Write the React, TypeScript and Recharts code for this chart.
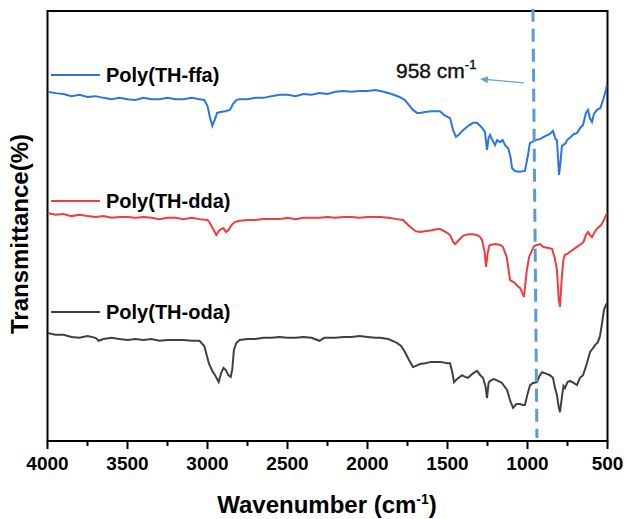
import React from 'react';
import { LineChart, Line, XAxis, YAxis, ReferenceArea, ReferenceLine } from 'recharts';

// FTIR spectra, [wavenumber (cm-1), transmittance offset value]
const ffaPoints: number[][] = [
  [4000, 81.2], [3950, 80.9], [3900, 80.7], [3850, 80.2], [3800, 80.5], [3750, 80.0], [3700, 80.2],
  [3650, 79.8], [3600, 79.5], [3550, 79.8], [3500, 79.5], [3450, 79.3], [3400, 79.8], [3350, 79.5],
  [3300, 79.5], [3250, 79.8], [3200, 79.5], [3150, 79.5], [3100, 79.8], [3050, 79.5], [3020, 79.3],
  [3000, 77.9], [2985, 75.3], [2970, 73.3], [2955, 74.7], [2940, 76.3], [2920, 76.5], [2890, 76.7],
  [2860, 77.0], [2840, 78.4], [2820, 79.3], [2800, 79.5], [2750, 79.5], [2700, 79.8], [2650, 79.8],
  [2600, 80.2], [2550, 80.5], [2500, 80.5], [2450, 80.2], [2400, 80.7], [2350, 80.5], [2300, 80.9],
  [2250, 80.7], [2200, 81.2], [2150, 81.4], [2100, 81.2], [2050, 81.4], [2000, 81.4], [1950, 81.6],
  [1900, 81.2], [1850, 80.7], [1800, 80.0], [1766, 79.3], [1740, 78.1], [1716, 77.0], [1690, 76.3],
  [1672, 76.3], [1640, 76.5], [1600, 76.7], [1547, 76.7], [1520, 75.8], [1484, 75.1], [1465, 72.3],
  [1447, 70.7], [1430, 71.2], [1403, 72.3], [1370, 73.3], [1340, 74.0], [1316, 74.0], [1290, 73.1],
  [1266, 71.9], [1253, 67.7], [1243, 70.5], [1234, 71.2], [1220, 70.0], [1203, 68.8], [1190, 70.0],
  [1172, 69.5], [1155, 70.0], [1140, 68.8], [1120, 68.1], [1105, 65.8], [1097, 63.5], [1078, 62.8],
  [1050, 62.6], [1016, 62.8], [997, 66.5], [985, 69.3], [972, 69.5], [950, 70.0], [922, 70.2],
  [890, 70.9], [860, 71.4], [841, 72.1], [825, 70.2], [816, 70.0], [808, 65.1], [803, 61.9],
  [795, 64.4], [785, 68.6], [778, 68.8], [760, 69.3], [753, 70.0], [730, 70.7], [710, 71.4],
  [691, 71.6], [670, 72.8], [653, 73.5], [635, 76.3], [622, 77.0], [610, 75.1], [597, 74.2],
  [585, 76.0], [566, 77.0], [545, 77.4], [528, 79.3], [515, 80.9], [503, 82.8],
];

const ddaPoints: number[][] = [
  [4000, 53.0], [3950, 52.6], [3900, 52.8], [3850, 52.3], [3800, 52.6], [3750, 52.3], [3700, 52.1],
  [3650, 52.3], [3600, 51.9], [3550, 52.1], [3500, 52.1], [3450, 51.9], [3400, 52.1], [3350, 51.9],
  [3300, 51.6], [3250, 51.9], [3200, 51.9], [3150, 51.6], [3100, 51.9], [3050, 51.6], [3000, 51.4],
  [2985, 50.7], [2965, 49.3], [2945, 47.9], [2930, 48.8], [2915, 49.3], [2900, 49.5], [2885, 48.6],
  [2870, 49.0], [2850, 50.2], [2830, 50.9], [2800, 51.2], [2750, 51.4], [2700, 51.4], [2650, 51.6],
  [2600, 51.6], [2550, 51.6], [2500, 51.9], [2450, 51.6], [2400, 51.9], [2350, 51.9], [2300, 51.9],
  [2250, 52.1], [2200, 51.9], [2150, 52.1], [2100, 52.1], [2050, 51.9], [2000, 52.1], [1950, 52.1],
  [1922, 52.1], [1870, 51.9], [1816, 51.6], [1778, 51.4], [1740, 50.0], [1700, 48.8], [1672, 48.6],
  [1640, 48.8], [1600, 49.0], [1560, 49.3], [1547, 49.3], [1510, 48.6], [1484, 47.9], [1465, 46.3],
  [1453, 45.8], [1430, 46.7], [1403, 47.7], [1370, 48.1], [1340, 48.1], [1316, 47.9], [1295, 47.4],
  [1284, 46.7], [1268, 44.0], [1259, 40.5], [1250, 43.5], [1240, 45.3], [1234, 45.6], [1200, 45.8],
  [1170, 45.6], [1153, 45.1], [1130, 42.8], [1109, 37.4], [1090, 37.0], [1078, 36.7], [1060, 36.0],
  [1047, 35.6], [1035, 34.7], [1022, 33.5], [1005, 39.5], [990, 42.8], [984, 43.3], [960, 45.3],
  [941, 45.6], [922, 45.8], [900, 45.1], [870, 44.9], [847, 44.7], [830, 42.6], [816, 39.8],
  [805, 33.0], [797, 31.2], [785, 38.4], [775, 42.3], [766, 43.3], [750, 43.5], [734, 44.0],
  [700, 44.9], [672, 45.6], [650, 46.3], [635, 47.9], [622, 48.6], [610, 47.9], [597, 47.4],
  [580, 48.6], [563, 49.5], [540, 50.2], [520, 51.6], [503, 53.0],
];

const odaPoints: number[][] = [
  [4000, 25.1], [3950, 24.7], [3900, 24.7], [3850, 24.2], [3800, 24.0], [3750, 24.4], [3700, 24.0],
  [3680, 23.3], [3650, 23.7], [3600, 24.0], [3550, 23.7], [3500, 23.5], [3450, 23.7], [3400, 23.5],
  [3350, 23.7], [3300, 23.3], [3250, 23.5], [3200, 23.5], [3150, 23.5], [3100, 23.3], [3050, 23.3],
  [3020, 22.1], [3005, 20.0], [2990, 17.9], [2970, 16.3], [2950, 15.1], [2930, 13.7], [2915, 15.8],
  [2900, 17.0], [2885, 16.5], [2870, 15.3], [2855, 14.9], [2845, 16.7], [2835, 21.2], [2820, 22.8],
  [2800, 23.5], [2750, 23.7], [2700, 23.7], [2650, 24.0], [2600, 24.0], [2550, 24.2], [2500, 24.0],
  [2450, 24.0], [2400, 24.2], [2350, 24.0], [2300, 23.3], [2270, 24.0], [2200, 24.0], [2150, 24.2],
  [2100, 24.2], [2050, 24.4], [2000, 24.2], [1950, 24.0], [1922, 24.0], [1870, 23.7], [1816, 22.8],
  [1790, 22.1], [1766, 20.7], [1740, 18.8], [1716, 17.2], [1700, 17.4], [1672, 17.9], [1640, 18.1],
  [1600, 18.4], [1547, 18.4], [1500, 18.1], [1484, 18.1], [1470, 16.0], [1459, 13.7], [1440, 14.4],
  [1409, 15.3], [1390, 14.9], [1372, 14.7], [1345, 15.6], [1316, 16.3], [1295, 15.3], [1278, 14.7],
  [1262, 12.6], [1253, 10.0], [1243, 13.5], [1234, 14.0], [1210, 14.4], [1184, 14.0], [1160, 13.5],
  [1128, 11.9], [1108, 9.3], [1090, 7.7], [1070, 8.6], [1047, 8.6], [1030, 8.4], [1016, 8.4],
  [1000, 10.9], [984, 13.0], [965, 13.5], [941, 13.7], [925, 15.1], [909, 16.0], [880, 15.6],
  [860, 15.3], [841, 14.7], [828, 12.3], [816, 10.7], [805, 7.9], [797, 6.7], [785, 10.2],
  [775, 12.8], [766, 12.3], [750, 13.7], [734, 14.0], [712, 13.5], [691, 13.0], [672, 14.7],
  [653, 15.3], [630, 17.9], [609, 20.7], [590, 21.6], [578, 22.3], [560, 23.0], [547, 24.4],
  [535, 27.2], [522, 30.5], [510, 31.6], [503, 32.1],
];

const xTicks = [4000, 3750, 3500, 3250, 3000, 2750, 2500, 2250, 2000, 1750, 1500, 1250, 1000, 750, 500];

const series = [
  { name: 'Poly(TH-ffa)', points: ffaPoints, color: '#2c74e2', legendTop: 75 },
  { name: 'Poly(TH-dda)', points: ddaPoints, color: '#f03c3c', legendTop: 201 },
  { name: 'Poly(TH-oda)', points: odaPoints, color: '#404040', legendTop: 312 },
];

const FONT = '"Liberation Sans", Arial, sans-serif';

const toRows = (pts: number[][]) => pts.map(([wn, t]) => ({ wn, t }));

const WnTick = (props: any) => {
  const { x, y, payload } = props;
  const v = payload.value;
  const major = v % 500 === 0;
  return (
    <g>
      <line x1={x} x2={x} y1={y - 16} y2={y - 16 + (major ? 8 : 5)} stroke="#000" strokeWidth={2} />
      {major && (
        <text x={x} y={y} dy="0.71em" textAnchor="middle" fontSize={19} fontWeight="bold" fontFamily={FONT} fill="#000">
          {v}
        </text>
      )}
    </g>
  );
};

// arrow pointing from the dashed line toward the label
const ArrowShape = (props: any) => {
  const { x1, y1, x2, y2 } = props;
  if (x1 == null) return null;
  const ang = Math.atan2(y2 - y1, x2 - x1);
  const len = 8;
  const w = 3.5;
  const bx = x2 - len * Math.cos(ang);
  const by = y2 - len * Math.sin(ang);
  const px = -Math.sin(ang) * w;
  const py = Math.cos(ang) * w;
  return (
    <g>
      <line x1={x1} y1={y1} x2={bx} y2={by} stroke="#6d9fd6" strokeWidth={1.3} />
      <polygon points={`${x2},${y2} ${bx + px},${by + py} ${bx - px},${by - py}`} fill="#6d9fd6" />
      <text x={x2 - 84} y={y2 - 1} fontSize={21} fontFamily={FONT} fill="#111" stroke="#111" strokeWidth={0.4}>
        958 cm<tspan dy={-9} fontSize={13}>-1</tspan>
      </text>
    </g>
  );
};

export default function App() {
  return (
    <div style={{ position: 'absolute', left: 0, top: 0, width: 627, height: 519, background: '#fff', fontFamily: FONT }}>
      <LineChart width={627} height={519} margin={{ top: 11, right: 19.5, left: 47.5, bottom: 0 }}>
        <XAxis
          dataKey="wn"
          type="number"
          domain={[500, 4000]}
          reversed
          ticks={xTicks}
          interval={0}
          height={78}
          tickSize={0}
          tickMargin={16}
          tickLine={false}
          tick={<WnTick />}
          axisLine={{ stroke: '#000', strokeWidth: 2 }}
          allowDataOverflow
        />
        <YAxis type="number" domain={[0, 100]} hide allowDataOverflow />
        <ReferenceArea x1={500} x2={4000} y1={0} y2={100} fill="none" stroke="#000" strokeWidth={2} fillOpacity={0} />
        {series.map((s) => (
          <Line
            key={s.name}
            data={toRows(s.points)}
            dataKey="t"
            type="linear"
            stroke={s.color}
            strokeWidth={2}
            dot={false}
            activeDot={false}
            isAnimationActive={false}
          />
        ))}
        <ReferenceLine
          segment={[{ x: 966, y: 100.5 }, { x: 941, y: 0.7 }]}
          ifOverflow="visible"
          stroke="#5b9bd5"
          strokeWidth={3}
          strokeDasharray="13 7"
        />
        <ReferenceLine
          segment={[{ x: 1022, y: 83.3 }, { x: 1297, y: 84.2 }]}
          ifOverflow="visible"
          shape={<ArrowShape />}
        />
      </LineChart>

      {series.map((s) => (
        <div key={s.name}>
          <div style={{ position: 'absolute', left: 51, top: s.legendTop - 1, width: 49, height: 2, background: s.color }} />
          <div
            style={{
              position: 'absolute', left: 106, top: s.legendTop, transform: 'translateY(-50%)',
              fontSize: 20, fontWeight: 'bold', color: '#000', whiteSpace: 'nowrap', lineHeight: 1,
            }}
          >
            {s.name}
          </div>
        </div>
      ))}

      <div
        style={{
          position: 'absolute', left: 20, top: 234, transform: 'translate(-50%, -50%) rotate(-90deg)',
          fontSize: 24, fontWeight: 'bold', color: '#000', whiteSpace: 'nowrap', lineHeight: 1,
        }}
      >
        Transmittance(%)
      </div>
      <div
        style={{
          position: 'absolute', left: 327, top: 505, transform: 'translate(-50%, -50%)',
          fontSize: 24, fontWeight: 'bold', color: '#000', whiteSpace: 'nowrap', lineHeight: 1,
        }}
      >
        Wavenumber (cm<sup style={{ fontSize: 14, lineHeight: 0 }}>-1</sup>)
      </div>
    </div>
  );
}
